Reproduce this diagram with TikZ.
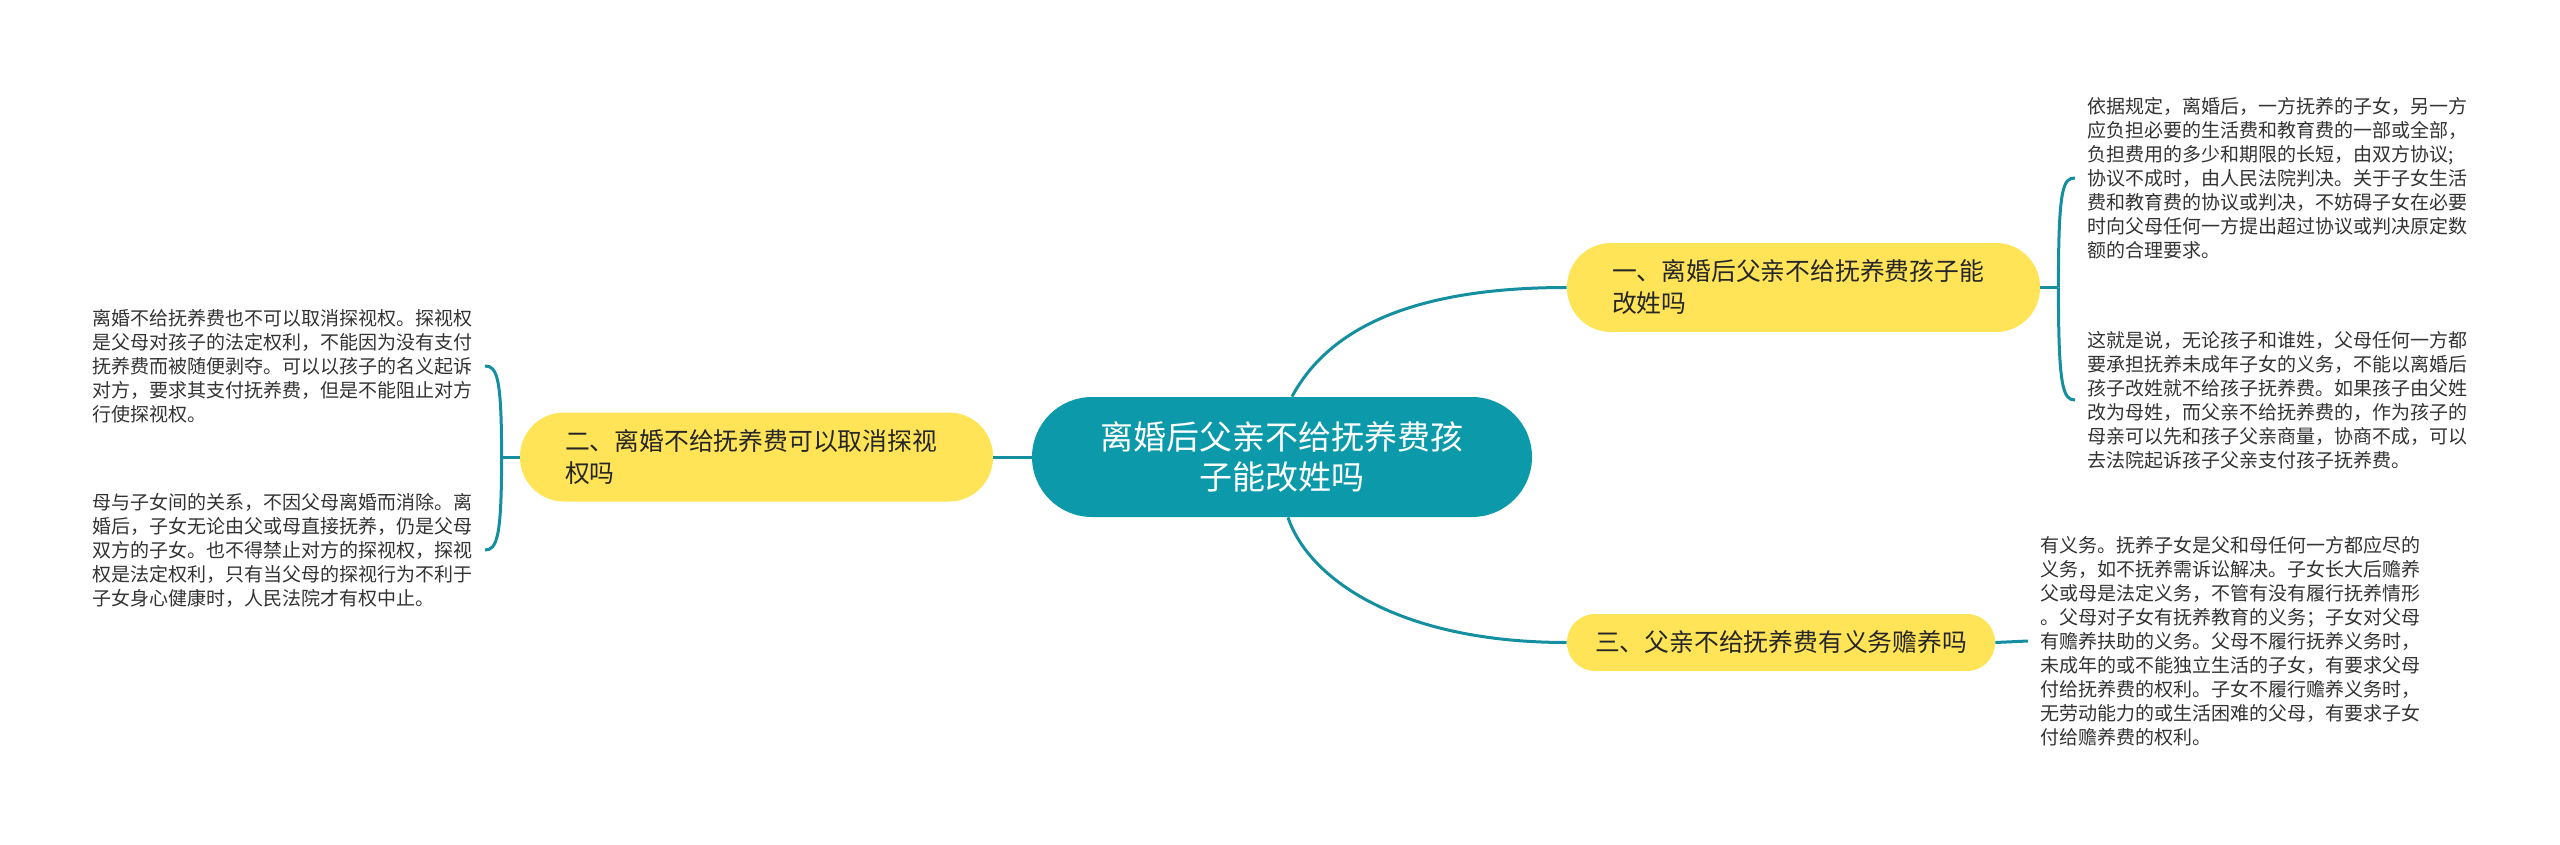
\documentclass[tikz,border=0pt]{standalone}
\usepackage{fontspec}
\setmainfont{Noto Sans CJK SC}
\definecolor{mapteal}{RGB}{12,154,170}
\definecolor{mapline}{RGB}{20,143,160}
\definecolor{mapyellow}{RGB}{255,228,88}
\definecolor{notetext}{RGB}{51,51,51}
\tikzset{%
hub/.style={fill=mapteal,text=white,rounded corners=30pt,
    minimum width=250pt,minimum height=60pt,align=center,
    font=\fontsize{16.5pt}{20pt}\selectfont},
topic/.style={fill=mapyellow,text=black!85,rounded corners=22pt,
    text width=191.5pt,inner xsep=22.5pt,minimum height=44.5pt,align=left,
    font=\fontsize{12.4pt}{16pt}\selectfont},
%one line topic
topicline/.style={fill=mapyellow,text=black!85,rounded corners=14pt,
    minimum width=214pt,minimum height=28.5pt,align=center,
    font=\fontsize{12.4pt}{16pt}\selectfont},
note/.style={text=notetext,inner xsep=6pt,inner ysep=0pt,align=left,
    font=\fontsize{9.5pt}{12pt}\selectfont},
link/.style={draw=mapline,line width=1.5pt},
}

\begin{document}
\begin{tikzpicture}[x=0.5pt,y=-0.5pt]
        \useasboundingbox (0,0) rectangle (2560,845);
        \node[hub] (C) at (1282,457) {离婚后父亲不给抚养费孩\\子能改姓吗};
        \node[topic] (T1) at (1803.5,287.5) {一、离婚后父亲不给抚养费孩子能\\改姓吗};
        \node[topic] (T2) at (756.5,457) {二、离婚不给抚养费可以取消探视\\权吗};
        \node[topicline] (T3) at (1781,642.5) {三、父亲不给抚养费有义务赡养吗};
        \node[note,anchor=west] (NA) at (2075,178) {依据规定，离婚后，一方抚养的子女，另一方\\应负担必要的生活费和教育费的一部或全部，\\负担费用的多少和期限的长短，由双方协议;\\协议不成时，由人民法院判决。关于子女生活\\费和教育费的协议或判决，不妨碍子女在必要\\时向父母任何一方提出超过协议或判决原定数\\额的合理要求。};
        \node[note,anchor=west] (NB) at (2075,400) {这就是说，无论孩子和谁姓，父母任何一方都\\要承担抚养未成年子女的义务，不能以离婚后\\孩子改姓就不给孩子抚养费。如果孩子由父姓\\改为母姓，而父亲不给抚养费的，作为孩子的\\母亲可以先和孩子父亲商量，协商不成，可以\\去法院起诉孩子父亲支付孩子抚养费。};
        \node[note,anchor=west] (NC) at (2028,641) {有义务。抚养子女是父和母任何一方都应尽的\\义务，如不抚养需诉讼解决。子女长大后赡养\\父或母是法定义务，不管有没有履行抚养情形\\。父母对子女有抚养教育的义务；子女对父母\\有赡养扶助的义务。父母不履行抚养义务时，\\未成年的或不能独立生活的子女，有要求父母\\付给抚养费的权利。子女不履行赡养义务时，\\无劳动能力的或生活困难的父母，有要求子女\\付给赡养费的权利。};
        \node[note,anchor=east] (ND) at (485,366) {离婚不给抚养费也不可以取消探视权。探视权\\是父母对孩子的法定权利，不能因为没有支付\\抚养费而被随便剥夺。可以以孩子的名义起诉\\对方，要求其支付抚养费，但是不能阻止对方\\行使探视权。};
        \node[note,anchor=east] (NE) at (485,550) {母与子女间的关系，不因父母离婚而消除。离\\婚后，子女无论由父或母直接抚养，仍是父母\\双方的子女。也不得禁止对方的探视权，探视\\权是法定权利，只有当父母的探视行为不利于\\子女身心健康时，人民法院才有权中止。};
        \draw[link] ([xshift=5pt]C.north) .. controls +(35,-65) and +(-160,0) .. (T1.west);
        \draw[link] ([xshift=3pt]C.south) .. controls +(20,60) and +(-170,0) .. (T3.west);
        \draw[link] (C.west) -- (T2.east);
        \draw[link] (T1.east) -- ++(18,0) coordinate (K1);
        \draw[link] (K1) .. controls +(0,-100) and +(-12,0) .. (NA.west);
        \draw[link] (K1) .. controls +(0,100) and +(-12,0) .. (NB.west);
        \draw[link] (T2.west) -- ++(-18,0) coordinate (K2);
        \draw[link] (K2) .. controls +(0,-80) and +(12,0) .. (ND.east);
        \draw[link] (K2) .. controls +(0,80) and +(12,0) .. (NE.east);
        \draw[link] (T3.east) -- (NC.west);
\end{tikzpicture}
\end{document}
